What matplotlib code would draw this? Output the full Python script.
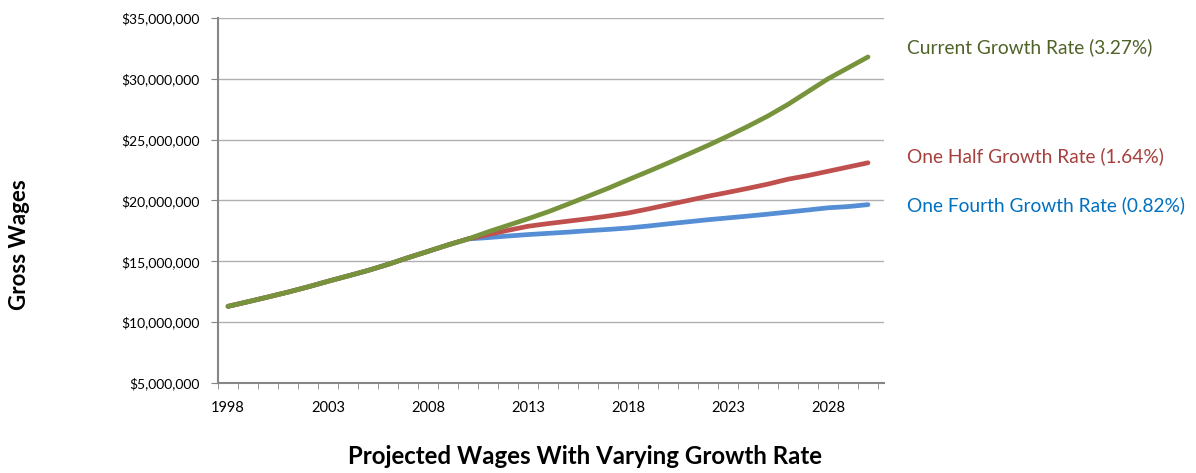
import matplotlib
matplotlib.use("Agg")
import matplotlib.pyplot as plt
from matplotlib.ticker import FuncFormatter, FixedLocator

years = list(range(1998, 2031))

# Gross wages in millions of dollars
current_growth = [11.30, 11.68, 12.07, 12.47, 12.90, 13.36, 13.80, 14.25, 14.75, 15.30,
                  15.82, 16.35, 16.84, 17.42, 17.96, 18.50, 19.07, 19.70, 20.35, 21.00,
                  21.70, 22.38, 23.08, 23.80, 24.53, 25.30, 26.10, 26.95, 27.90, 28.95,
                  30.00, 30.90, 31.80]
half_growth = [11.30, 11.68, 12.07, 12.47, 12.90, 13.36, 13.80, 14.25, 14.75, 15.30,
               15.82, 16.35, 16.84, 17.20, 17.55, 17.88, 18.10, 18.30, 18.50, 18.72,
               18.97, 19.30, 19.65, 20.00, 20.35, 20.67, 21.00, 21.35, 21.75, 22.05,
               22.40, 22.75, 23.10]
fourth_growth = [11.30, 11.68, 12.07, 12.47, 12.90, 13.36, 13.80, 14.25, 14.75, 15.30,
                 15.82, 16.35, 16.84, 16.95, 17.08, 17.20, 17.30, 17.40, 17.52, 17.62,
                 17.74, 17.90, 18.08, 18.25, 18.42, 18.57, 18.72, 18.88, 19.05, 19.22,
                 19.40, 19.50, 19.66]

series_labels = ["Current Growth Rate (3.27%)", "One Half Growth Rate (1.64%)",
                 "One Fourth Growth Rate (0.82%)"]
label_values = [32.64, 23.6, 19.58]
tick_years = [1998, 2003, 2008, 2013, 2018, 2023, 2028]
y_ticks = [5, 10, 15, 20, 25, 30, 35]

plt.rcParams['font.family'] = ['Lato', 'DejaVu Sans']

fig = plt.figure(figsize=(11.96, 4.73), dpi=100)
ax = fig.add_axes([218 / 1196, 1 - 383 / 473, (884 - 218) / 1196, (383 - 18) / 473])

green = "#77933C"
red = "#C0504D"
blue = "#558ED5"

ax.plot(years, [v * 1e6 for v in fourth_growth], color=blue, lw=3.4, solid_capstyle='round', zorder=3)
ax.plot(years, [v * 1e6 for v in half_growth], color=red, lw=3.4, solid_capstyle='round', zorder=4)
ax.plot(years, [v * 1e6 for v in current_growth], color=green, lw=3.4, solid_capstyle='round', zorder=5)

ax.set_xlim(1997.5, 2030.8)
ax.set_ylim(5e6, 35e6)
ax.set_yticks([v * 1e6 for v in y_ticks])
ax.yaxis.set_major_formatter(FuncFormatter(lambda v, p: "${:,.0f}".format(v)))
ax.grid(axis='y', color='#B0B0B0', lw=1.0)
ax.set_axisbelow(True)

ax.set_xticks(tick_years)
ax.set_xticklabels([str(y) for y in tick_years])
ax.tick_params(axis='x', which='major', length=0, labelsize=10.5, pad=13)
ax.xaxis.set_minor_locator(FixedLocator([y + 0.5 for y in range(1997, 2031)]))
ax.tick_params(axis='x', which='minor', length=4, color='#868686', direction='out')
ax.tick_params(axis='y', length=5, color='#868686', labelsize=10, pad=8)

for s in ['top', 'right']:
    ax.spines[s].set_visible(False)
for s in ['left', 'bottom']:
    ax.spines[s].set_color('#868686')
    ax.spines[s].set_linewidth(1.5)

label_colors = ["#4F6228", "#A5403D", "#0070C0"]
for text, c, yv in zip(series_labels, label_colors, label_values):
    ax.annotate(text, xy=(1.0, yv * 1e6), xycoords=('axes fraction', 'data'),
                xytext=(23, 0), textcoords='offset pixels', color=c,
                fontsize=13.8, va='center', ha='left', annotation_clip=False)

fig.text(20 / 1196, 1 - 245 / 473, "Gross Wages", rotation=90, fontsize=16,
         fontweight='bold', ha='center', va='center')
fig.text(585 / 1196, 1 - 456 / 473, "Projected Wages With Varying Growth Rate",
         fontsize=17.3, fontweight='bold', ha='center', va='center')

fig.savefig("out.png", dpi=100)
